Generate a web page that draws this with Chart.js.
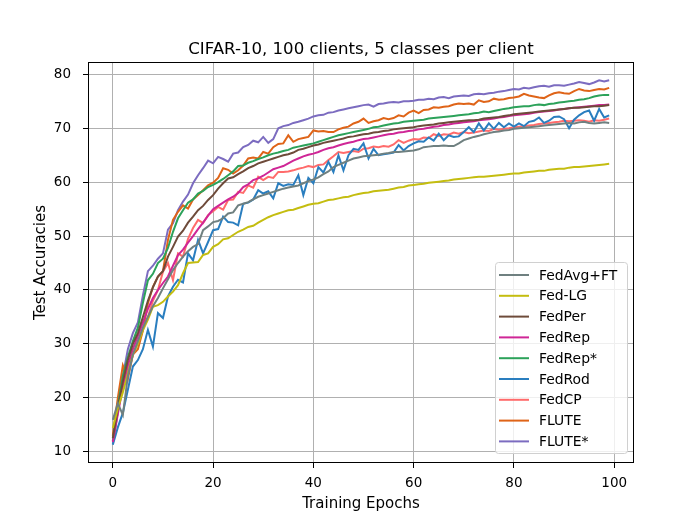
<!DOCTYPE html>
<html>
<head>
<meta charset="utf-8">
<script src="https://cdn.jsdelivr.net/npm/chart.js@4.4.0/dist/chart.umd.min.js"></script>
<style>
  html, body { margin: 0; padding: 0; background: #fff; }
</style>
</head>
<body>
<canvas id="myChart" width="700" height="520"></canvas>
<script>
// x values: training epochs 0..99
var epochs = [];
for (var i = 0; i < 100; i++) epochs.push(i);

var xTicks = [0, 20, 40, 60, 80, 100];
var yTicks = [10, 20, 30, 40, 50, 60, 70, 80];

var seriesNames = ['FedAvg+FT', 'Fed-LG', 'FedPer', 'FedRep', 'FedRep*', 'FedRod', 'FedCP', 'FLUTE', 'FLUTE*'];

var fedAvgFT = [
  15.9, 19.0, 16.8, 24.0, 28.0, 30.5, 33.0, 35.0, 37.0, 38.5,
  40.3, 42.0, 43.7, 45.0, 46.2, 47.2, 48.0, 48.5, 51.1, 51.8,
  52.6, 52.8, 53.3, 54.2, 54.4, 55.7, 56.0, 56.3, 56.8, 57.3,
  57.6, 57.9, 58.2, 58.5, 58.8, 59.0, 59.2, 59.4, 59.8, 60.2,
  60.5, 60.9, 61.5, 62.0, 62.8, 63.2, 63.6, 64.0, 64.4, 64.6,
  64.8, 64.9, 65.0, 65.1, 65.3, 65.4, 65.6, 65.6, 65.7, 65.8,
  65.9, 66.1, 66.5, 66.6, 66.7, 66.7, 66.8, 66.7, 66.7, 67.2,
  67.8, 68.1, 68.4, 68.6, 68.9, 69.1, 69.3, 69.4, 69.6, 69.7,
  69.9, 70.0, 70.1, 70.2, 70.3, 70.4, 70.5, 70.6, 70.7, 70.8,
  70.9, 71.0, 70.9, 71.1, 71.2, 71.0, 70.9, 71.0, 71.1, 71.0
];
var fedLG = [
  14.4, 18.0, 21.0, 24.5, 28.0, 30.0, 32.5, 34.5, 36.9, 37.2,
  37.8, 38.8, 39.7, 40.9, 43.1, 45.0, 45.1, 45.2, 46.5, 46.8,
  48.0, 48.5, 49.4, 49.6, 50.2, 50.8, 51.2, 51.7, 51.9, 52.5,
  53.0, 53.5, 53.9, 54.2, 54.5, 54.8, 54.9, 55.2, 55.5, 55.8,
  56.0, 56.1, 56.4, 56.7, 56.8, 57.0, 57.2, 57.3, 57.6, 57.8,
  58.0, 58.1, 58.3, 58.4, 58.5, 58.6, 58.8, 59.0, 59.1, 59.4,
  59.5, 59.6, 59.7, 59.9, 60.0, 60.1, 60.2, 60.3, 60.5, 60.6,
  60.7, 60.8, 60.9, 61.0, 61.0, 61.1, 61.2, 61.3, 61.4, 61.5,
  61.6, 61.6, 61.8, 61.9, 62.0, 62.1, 62.1, 62.3, 62.4, 62.5,
  62.5, 62.7, 62.8, 62.8, 62.9, 63.0, 63.1, 63.2, 63.3, 63.4
];
var fedPer = [
  12.5, 18.0, 23.0, 27.0, 30.0, 32.0, 35.0, 38.0, 40.5, 42.5,
  43.5, 46.2, 48.0, 49.9, 51.0, 52.5, 53.6, 54.8, 55.6, 56.7,
  57.6, 58.8, 59.8, 60.7, 60.9, 61.5, 62.0, 62.6, 63.0, 63.5,
  63.8, 64.1, 64.4, 64.7, 65.0, 65.2, 65.5, 66.0, 66.2, 66.5,
  66.8, 67.0, 67.3, 67.5, 67.7, 67.9, 68.1, 68.4, 68.5, 68.7,
  68.9, 69.0, 69.2, 69.3, 69.5, 69.6, 69.8, 69.9, 70.0, 70.1,
  70.2, 70.4, 70.5, 70.6, 70.7, 70.9, 71.0, 71.1, 71.2, 71.3,
  71.4, 71.5, 71.5, 71.6, 71.8, 71.9, 72.0, 72.1, 72.3, 72.4,
  72.6, 72.7, 72.8, 72.9, 73.0, 73.1, 73.2, 73.3, 73.4, 73.5,
  73.6, 73.7, 73.8, 73.8, 73.9, 74.0, 74.1, 74.1, 74.2, 74.3
];
var fedRep = [
  11.8, 17.0, 22.0, 26.0, 29.0, 31.5, 34.0, 36.5, 38.5, 40.0,
  41.3, 42.5, 44.5, 46.5, 47.5, 48.8, 50.0, 51.3, 52.5, 53.8,
  55.0, 55.6, 56.2, 56.8, 57.3, 58.0, 59.1, 59.6, 60.4, 60.7,
  61.2, 61.8, 62.4, 62.7, 63.0, 63.5, 64.0, 64.4, 64.8, 65.1,
  65.3, 65.6, 66.0, 66.3, 66.5, 66.8, 67.1, 67.3, 67.5, 67.8,
  68.0, 68.1, 68.3, 68.5, 68.7, 68.9, 69.0, 69.2, 69.3, 69.5,
  69.6, 69.8, 69.9, 70.1, 70.3, 70.4, 70.6, 70.7, 70.9, 71.0,
  71.1, 71.2, 71.3, 71.5, 71.6, 71.7, 71.8, 72.0, 72.1, 72.3,
  72.4, 72.5, 72.6, 72.7, 72.9, 73.0, 73.1, 73.2, 73.3, 73.5,
  73.6, 73.7, 73.8, 73.9, 74.0, 74.1, 74.2, 74.3, 74.3, 74.4
];
var fedRepStar = [
  12.0, 18.5, 24.0, 27.5, 30.5, 33.0, 37.6, 41.8, 43.0, 45.0,
  45.8, 47.8, 50.8, 53.3, 54.8, 56.2, 56.8, 57.9, 58.4, 59.1,
  59.5, 60.0, 60.6, 61.3, 62.0, 63.0, 63.1, 63.6, 63.9, 64.3,
  64.6, 65.0, 65.3, 65.5, 65.8, 66.0, 66.4, 66.6, 66.8, 67.0,
  67.2, 67.5, 67.8, 68.1, 68.4, 68.7, 68.9, 69.1, 69.3, 69.5,
  69.7, 69.9, 70.2, 70.3, 70.5, 70.7, 70.9, 71.0, 71.2, 71.3,
  71.4, 71.5, 71.6, 71.8, 71.9, 72.0, 72.1, 72.2, 72.3, 72.4,
  72.5, 72.6, 72.8, 72.9, 73.1, 73.0, 73.2, 73.4, 73.6, 73.7,
  73.9, 74.0, 74.1, 74.1, 74.3, 74.4, 74.3, 74.5, 74.6, 74.8,
  74.9, 75.0, 75.1, 75.3, 75.4, 75.6, 75.9, 76.1, 76.2, 76.2
];
var fedRod = [
  11.3, 14.5, 17.2, 21.5, 25.8, 27.0, 29.0, 32.6, 29.5, 35.7,
  34.8, 38.8, 40.6, 41.9, 41.4, 46.8, 45.5, 49.3, 46.8, 48.9,
  51.1, 51.3, 53.6, 52.6, 52.5, 52.0, 56.0, 56.2, 56.8, 58.5,
  57.9, 58.3, 57.0, 59.8, 59.3, 59.6, 59.5, 61.3, 57.6, 60.8,
  59.8, 62.8, 61.8, 63.8, 61.9, 65.0, 62.2, 65.0, 66.2, 66.0,
  67.2, 64.4, 66.2, 65.0, 65.2, 65.3, 65.5, 66.9, 65.9, 66.7,
  67.2, 67.6, 67.5, 68.3, 67.7, 69.0, 67.8, 68.7, 68.4, 68.5,
  69.3, 70.2, 69.3, 70.9, 69.6, 70.9, 69.9, 71.0, 70.2, 70.9,
  70.3, 70.9, 70.4, 71.2, 71.4, 72.0, 71.0, 71.4, 72.1, 72.2,
  71.7, 70.0, 71.6, 72.4, 73.0, 73.3, 71.4, 73.6, 72.0, 72.4
];
var fedCP = [
  12.0, 17.5, 22.5, 25.0, 28.0, 30.5, 33.0, 35.0, 38.0, 40.0,
  43.4, 45.0, 41.8, 46.8, 46.2, 49.5, 51.5, 53.0, 52.4, 53.9,
  54.6, 55.4, 54.9, 56.7, 56.8, 58.2, 58.0, 59.4, 59.0, 61.0,
  60.4, 61.0, 60.8, 61.9, 61.9, 62.0, 62.2, 62.5, 62.7, 63.0,
  62.8, 63.2, 63.3, 64.1, 64.8, 65.6, 65.4, 65.6, 65.8, 65.6,
  66.2, 66.3, 66.6, 66.5, 66.7, 66.6, 67.0, 67.8, 67.3, 67.7,
  68.0, 67.9, 68.3, 68.2, 68.9, 68.6, 68.9, 68.8, 69.2, 69.0,
  69.3, 69.1, 69.2, 69.4, 69.6, 69.5, 69.9, 69.7, 69.9, 70.0,
  70.2, 70.3, 70.4, 70.5, 70.6, 70.8, 70.9, 71.0, 71.1, 71.2,
  71.4, 71.3, 71.4, 71.5, 71.4, 71.2, 71.5, 71.4, 71.6, 71.8
];
var flute = [
  13.0, 20.0, 26.0, 23.5, 28.0, 29.0, 32.5, 37.5, 40.6, 42.5,
  43.5, 49.3, 53.0, 54.5, 55.7, 55.1, 56.8, 57.6, 58.5, 59.4,
  59.9, 60.8, 62.6, 62.3, 61.6, 62.2, 63.1, 64.4, 64.6, 64.4,
  65.6, 65.3, 66.5, 67.1, 67.2, 68.7, 67.5, 68.0, 68.2, 68.4,
  69.6, 69.4, 69.5, 69.3, 69.3, 69.8, 70.1, 70.3, 70.9, 71.2,
  71.8, 71.0, 71.3, 71.5, 71.9, 71.7, 71.9, 72.4, 72.2, 72.9,
  73.3, 72.8, 73.4, 73.5, 73.9, 73.8, 74.0, 74.1, 74.4, 74.6,
  74.5, 74.6, 74.4, 75.2, 74.9, 75.0, 75.5, 75.3, 75.4, 75.6,
  75.7, 75.9, 76.4, 76.1, 75.9, 75.7, 75.6, 76.1, 76.5, 76.7,
  76.5, 76.4, 76.9, 77.3, 77.0, 76.9, 77.1, 77.3, 77.2, 77.5
];
var fluteStar = [
  11.5, 17.5, 24.0, 29.0, 32.0, 34.0, 39.0, 43.5, 44.5, 45.8,
  46.8, 51.2, 52.4, 54.8, 56.4, 57.7, 59.8, 61.3, 62.6, 64.0,
  63.5, 64.7, 64.3, 63.8, 65.3, 65.5, 66.5, 66.9, 67.7, 67.4,
  68.4, 67.3, 68.0, 70.0, 70.4, 70.6, 71.0, 71.2, 71.5, 71.8,
  72.2, 72.4, 72.5, 72.9, 73.0, 73.3, 73.5, 73.7, 73.9, 74.1,
  74.3, 74.4, 74.0, 74.5, 74.6, 74.8, 74.9, 74.8, 75.0, 75.0,
  75.1, 75.3, 75.3, 75.5, 75.4, 75.7, 75.8, 75.6, 75.9, 76.0,
  76.1, 76.0, 76.3, 76.4, 76.3, 76.5, 76.6, 76.8, 76.9, 77.1,
  77.3, 77.2, 77.5, 77.4, 77.6, 77.8, 77.9, 77.7, 78.0, 78.0,
  77.9, 78.1, 78.3, 78.6, 78.4, 78.2, 78.5, 78.9, 78.7, 78.9
];

var seriesValues = [fedAvgFT, fedLG, fedPer, fedRep, fedRepStar, fedRod, fedCP, flute, fluteStar];
var seriesColors = ['#6f8080', '#c4bd10', '#6e4b3a', '#cf2696', '#2ca25a', '#2a7ebf', '#ff6b6b', '#df6418', '#7c6cc0'];

Chart.defaults.font.family = 'DejaVu Sans';
Chart.defaults.color = '#000';

var datasets = seriesNames.map(function (name, k) {
  return {
    label: name,
    data: epochs.map(function (e, i) { return { x: e, y: seriesValues[k][i] }; }),
    borderColor: seriesColors[k],
    backgroundColor: seriesColors[k],
    borderWidth: 2,
    pointRadius: 0,
    tension: 0,
    fill: false
  };
});

// black frame around the plot area
var framePlugin = {
  id: 'frame',
  afterDatasetsDraw: function (chart) {
    var a = chart.chartArea, c = chart.ctx;
    c.save();
    c.strokeStyle = '#000';
    c.lineWidth = 1;
    c.strokeRect(Math.round(a.left) + 0.5, Math.round(a.top) + 0.5,
      Math.round(a.right - a.left) - 1, Math.round(a.bottom - a.top) - 1);
    c.restore();
  }
};

// title centred over the axes, like matplotlib
var titlePlugin = {
  id: 'axTitle',
  afterDraw: function (chart) {
    var a = chart.chartArea, c = chart.ctx;
    c.save();
    c.font = '16.6px "DejaVu Sans"';
    c.fillStyle = '#000';
    c.textAlign = 'center';
    c.textBaseline = 'alphabetic';
    c.fillText('CIFAR-10, 100 clients, 5 classes per client', (a.left + a.right) / 2, 54);
    c.restore();
  }
};

// legend box in the lower right corner of the plot
var legendPlugin = {
  id: 'boxLegend',
  afterDraw: function (chart) {
    var a = chart.chartArea, c = chart.ctx;
    var rowH = 20.8, w = 132, h = 191;
    var x0 = a.right - 7 - w, y0 = a.bottom - 10 - h;
    c.save();
    c.beginPath();
    c.roundRect(x0 + 0.5, y0 + 0.5, w, h, 3);
    c.fillStyle = 'rgba(255,255,255,0.8)';
    c.fill();
    c.strokeStyle = '#d0d0d0';
    c.lineWidth = 1;
    c.stroke();
    c.font = '13.9px "DejaVu Sans"';
    c.textAlign = 'left';
    c.textBaseline = 'middle';
    chart.data.datasets.forEach(function (ds, k) {
      var cy = y0 + 13 + k * rowH;
      c.beginPath();
      c.moveTo(x0 + 4, cy);
      c.lineTo(x0 + 34, cy);
      c.strokeStyle = ds.borderColor;
      c.lineWidth = 2;
      c.stroke();
      c.fillStyle = '#000';
      c.fillText(ds.label, x0 + 44, cy + 1);
    });
    c.restore();
  }
};

var ctx = document.getElementById('myChart').getContext('2d');
var myChart = new Chart(ctx, {
  type: 'line',
  data: { datasets: datasets },
  options: {
    responsive: false,
    animation: false,
    devicePixelRatio: 1,
    layout: { padding: { top: 62, right: 66, left: 0, bottom: 0 } },
    plugins: {
      legend: { display: false },
      title: { display: false },
      tooltip: { enabled: false }
    },
    scales: {
      x: {
        type: 'linear',
        min: -4.95,
        max: 103.95,
        afterBuildTicks: function (s) { s.ticks = xTicks.map(function (v) { return { value: v }; }); },
        afterFit: function (s) { s.height = 57; },
        grid: { color: '#b0b0b0', lineWidth: 1, tickColor: '#000', tickLength: 5, tickWidth: 1 },
        border: { display: false },
        ticks: { font: { size: 13.5 }, color: '#000', padding: 7, maxRotation: 0 },
        title: { display: true, text: 'Training Epochs', font: { size: 15 }, color: '#000', padding: { top: 0, bottom: 7 } }
      },
      y: {
        min: 7.9,
        max: 82.3,
        afterBuildTicks: function (s) { s.ticks = yTicks.map(function (v) { return { value: v }; }); },
        afterFit: function (s) { s.width = 88; },
        grid: { color: '#b0b0b0', lineWidth: 1, tickColor: '#000', tickLength: 5, tickWidth: 1 },
        border: { display: false },
        ticks: { font: { size: 13.5 }, color: '#000', padding: 12 },
        title: { display: true, text: 'Test Accuracies', font: { size: 15 }, color: '#000', padding: { top: 32, bottom: 0 } }
      }
    }
  },
  plugins: [framePlugin, titlePlugin, legendPlugin]
});
</script>
</body>
</html>
